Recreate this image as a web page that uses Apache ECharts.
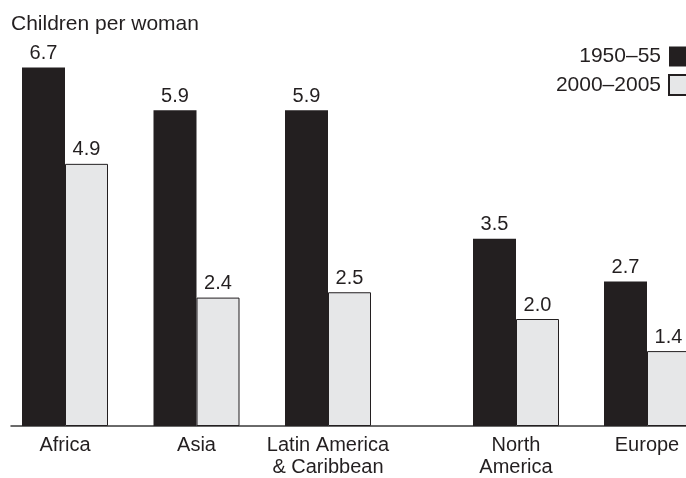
<!DOCTYPE html>
<html>
<head>
<meta charset="utf-8">
<script src="https://cdn.jsdelivr.net/npm/echarts@6/dist/echarts.min.js"></script>
<style>html,body{margin:0;padding:0;background:#fff}#c{width:686px;height:478px}</style>
</head>
<body>
<div id="c"></div>
<script>
var regions = ['Africa', 'Asia', 'Latin America\n& Caribbean', 'North\nAmerica', 'Europe'];
var v1950 = [6.7, 5.9, 5.9, 3.5, 2.7];
var v2000 = [4.9, 2.4, 2.5, 2.0, 1.4];
var seriesNames = ['1950\u201355', '2000\u20132005'];
var yTitle = 'Children per woman';

var FONT = '"Liberation Sans", Arial, Helvetica, sans-serif';
var INK = '#231f20';
var LIGHT = '#e6e7e8';
var split = 3;

var chart = echarts.init(document.getElementById('c'), null, {renderer: 'canvas'});

function catAxis(idx, data) {
  return {
    type: 'category', gridIndex: idx, data: data, boundaryGap: false,
    axisLine: {show: false}, axisTick: {show: false},
    axisLabel: {fontFamily: FONT, fontSize: 20, color: INK, margin: 8, lineHeight: 22, interval: 0}
  };
}
function valAxis(idx) {
  return {type: 'value', gridIndex: idx, min: 0, max: 7, show: false};
}
function barSeries(name, vals, idx, dark) {
  return {
    type: 'bar', name: name, xAxisIndex: idx, yAxisIndex: idx,
    data: vals, barWidth: 43, barGap: '0%',
    itemStyle: dark ? {color: INK} : {color: LIGHT, borderColor: INK, borderWidth: 1},
    label: {
      show: true, position: 'top', distance: 4,
      fontFamily: FONT, fontSize: 20, color: INK,
      formatter: function (p) { return p.value.toFixed(1); }
    }
  };
}

chart.setOption({
  animation: false,
  title: {
    text: yTitle, left: 6, top: 9,
    textStyle: {fontFamily: FONT, fontSize: 21, fontWeight: 'normal', color: INK}
  },
  legend: {
    orient: 'vertical', right: -4, top: 46, padding: 0,
    itemWidth: 20, itemHeight: 20, itemGap: 7, align: 'right',
    icon: 'rect', data: seriesNames,
    textStyle: {fontFamily: FONT, fontSize: 21, color: INK, padding: [0, 3, 0, 0]}
  },
  grid: [
    {left: 65, width: 263, top: 51.5, height: 374.5},
    {left: 516, width: 131, top: 51.5, height: 374.5},
    {left: 11, right: 0, top: 51.5, height: 374.5}
  ],
  xAxis: [
    catAxis(0, regions.slice(0, split)),
    catAxis(1, regions.slice(split)),
    {type: 'value', gridIndex: 2, min: 0, max: 1,
     axisLine: {show: true, lineStyle: {color: '#3a3a3a', width: 1.5}},
     axisTick: {show: false}, axisLabel: {show: false}, splitLine: {show: false}}
  ],
  yAxis: [valAxis(0), valAxis(1), valAxis(2)],
  series: [
    barSeries(seriesNames[0], v1950.slice(0, split), 0, true),
    barSeries(seriesNames[1], v2000.slice(0, split), 0, false),
    barSeries(seriesNames[0], v1950.slice(split), 1, true),
    barSeries(seriesNames[1], v2000.slice(split), 1, false)
  ]
});
</script>
</body>
</html>
